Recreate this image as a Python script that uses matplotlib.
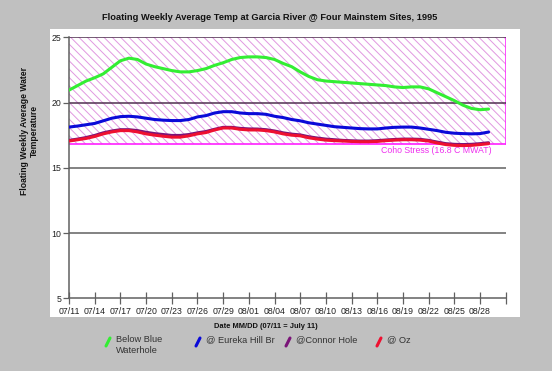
import matplotlib
matplotlib.use("Agg")
import matplotlib.pyplot as plt
from matplotlib.lines import Line2D
import numpy as np

plt.rcParams['font.family'] = ['Liberation Sans', 'DejaVu Sans']

# ---- data (days since 07/11/1995) ----
days = list(range(50))
below_blue = [20.95, 21.3, 21.65, 21.9, 22.2, 22.7, 23.2, 23.4, 23.3, 22.95,
              22.75, 22.6, 22.45, 22.35, 22.35, 22.45, 22.6, 22.85, 23.05, 23.3,
              23.45, 23.5, 23.5, 23.45, 23.3, 23.0, 22.75, 22.35, 22.0, 21.75,
              21.65, 21.6, 21.55, 21.5, 21.45, 21.4, 21.35, 21.3, 21.2, 21.15,
              21.2, 21.2, 21.05, 20.75, 20.45, 20.15, 19.8, 19.55, 19.45, 19.5]
eureka = [18.12, 18.2, 18.3, 18.4, 18.6, 18.8, 18.92, 18.95, 18.9, 18.8,
          18.7, 18.65, 18.62, 18.62, 18.7, 18.9, 19.0, 19.2, 19.3, 19.3,
          19.2, 19.15, 19.15, 19.1, 18.95, 18.85, 18.7, 18.6, 18.45, 18.35,
          18.25, 18.15, 18.1, 18.05, 18.0, 17.98, 17.98, 18.05, 18.1, 18.12,
          18.12, 18.05, 17.95, 17.85, 17.72, 17.65, 17.62, 17.6, 17.62, 17.74]
connor = [17.1, 17.2, 17.32, 17.48, 17.68, 17.82, 17.92, 17.92, 17.85, 17.72,
          17.62, 17.55, 17.48, 17.48, 17.55, 17.68, 17.78, 17.95, 18.1, 18.1,
          18.02, 17.98, 17.97, 17.92, 17.82, 17.68, 17.58, 17.52, 17.38, 17.28,
          17.2, 17.15, 17.1, 17.07, 17.05, 17.05, 17.08, 17.13, 17.17, 17.2,
          17.2, 17.18, 17.1, 16.97, 16.85, 16.8, 16.78, 16.8, 16.85, 16.92]
oz = [17.05, 17.15, 17.25, 17.4, 17.6, 17.75, 17.85, 17.85, 17.75, 17.6,
      17.5, 17.42, 17.35, 17.35, 17.45, 17.6, 17.7, 17.9, 18.05, 18.05,
      17.95, 17.9, 17.9, 17.85, 17.75, 17.6, 17.5, 17.45, 17.3, 17.2,
      17.12, 17.08, 17.05, 17.02, 17.0, 17.0, 17.02, 17.08, 17.12, 17.15,
      17.15, 17.12, 17.05, 16.9, 16.78, 16.72, 16.7, 16.72, 16.78, 16.85]

tick_days = list(range(0, 52, 3))
tick_labels = ["07/11", "07/14", "07/17", "07/20", "07/23", "07/26", "07/29",
               "08/01", "08/04", "08/07", "08/10", "08/13", "08/16", "08/19",
               "08/22", "08/25", "08/28", ""]
yticks = [5, 10, 15, 20, 25]
coho_stress = 16.8

series = [("Below Blue\nWaterhole", below_blue, "#33ee33"),
          ("@ Eureka Hill Br", eureka, "#0a0ad8"),
          ("@Connor Hole", connor, "#7a1478"),
          ("@ Oz", oz, "#ee1030")]

W, H = 552, 371
fig = plt.figure(figsize=(W / 100, H / 100), dpi=100)
fig.patch.set_facecolor("#c0c0c0")

# white panel
panel = fig.add_axes([50 / W, 1 - 317 / H, 470 / W, 288 / H], zorder=-5)
panel.set_facecolor("white")
panel.set_xticks([])
panel.set_yticks([])
for s in panel.spines.values():
    s.set_visible(False)

ax = fig.add_axes([69 / W, 1 - 298.3 / H, 436.7 / W, 261 / H], zorder=1)
ax.set_facecolor("none")
ax.set_xlim(0, 51)
ax.set_ylim(5, 25)

plt.rcParams['hatch.linewidth'] = 0.7
ax.fill_between([0, 51], coho_stress, 25, facecolor="none",
                edgecolor="#e098e0", hatch="\\\\\\\\", linewidth=0, zorder=1)
ax.plot([51, 51], [coho_stress, 25], color="#ff30ff", lw=1.2, zorder=2)
ax.axhline(coho_stress, color="#ff20ff", lw=1.2, zorder=2)

ax.axhline(25, color="#503050", lw=1.1, zorder=2)
ax.axhline(20, color="#503050", lw=1.1, zorder=2)
for y in [10, 15]:
    ax.axhline(y, color="#606060", lw=1.1, zorder=2)

for name, vals, col in series:
    ax.plot(days, vals, color=col, lw=2.2, zorder=3, solid_capstyle="round")

ax.text(49.4, 16.7, "Coho Stress (16.8 C MWAT)", color="#ee30ee", fontsize=6.3,
        ha="right", va="top", zorder=4)

for s in ["top", "right"]:
    ax.spines[s].set_visible(False)
for s in ["left", "bottom"]:
    ax.spines[s].set_color("#606060")
    ax.spines[s].set_linewidth(1.1)

ax.set_xticks(tick_days)
ax.set_xticklabels(tick_labels)
ax.set_yticks(yticks)
ax.tick_params(axis="x", direction="inout", length=8, width=0.9, color="#606060",
               labelsize=6.3, labelcolor="#222222", pad=2)
ax.tick_params(axis="y", direction="out", length=4.5, width=0.9, color="#606060",
               labelsize=6.3, labelcolor="#222222", pad=1)

fig.text(270 / W, 1 - 17 / H,
         "Floating Weekly Average Temp at Garcia River @ Four Mainstem Sites, 1995",
         ha="center", va="center", fontsize=6.7, fontweight="bold", color="#111111")
fig.text(29.5 / W, 1 - 131 / H, "Floating Weekly Average Water\nTemperature",
         ha="center", va="center", rotation=90, fontsize=6.2, fontweight="bold",
         color="#111111", linespacing=1.1)
fig.text(266 / W, 1 - 327 / H, "Date MM/DD (07/11 = July 11)", ha="center",
         va="center", fontsize=5.4, fontweight="bold", color="#111111")

# legend
leg_x = [106, 196, 286, 377]
for (name, vals, col), lx in zip(series, leg_x):
    fig.add_artist(Line2D([lx / W, (lx + 4) / W], [1 - 346 / H, 1 - 338 / H],
                          transform=fig.transFigure, color=col, lw=2.2,
                          solid_capstyle="round"))
    fig.text((lx + 10) / W, 1 - 335.5 / H, name, ha="left", va="top",
             fontsize=6.7, color="#333333", linespacing=1.15)

fig.savefig("out.png", dpi=100, facecolor=fig.get_facecolor())
